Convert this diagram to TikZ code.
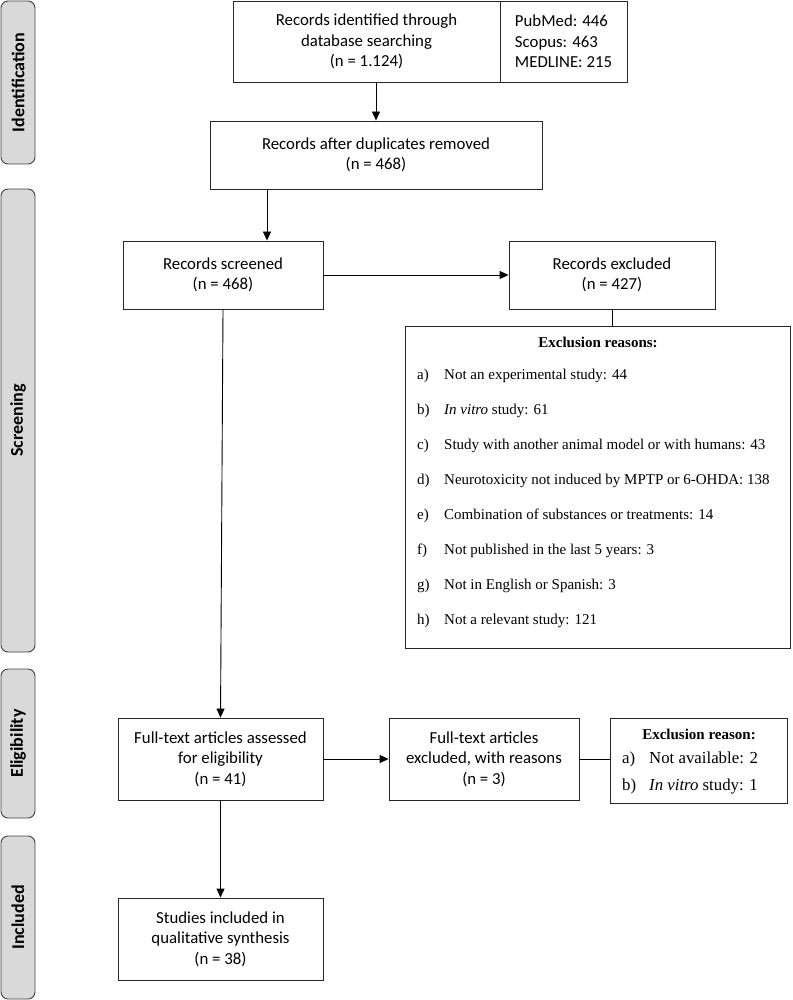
\documentclass[tikz,border=0pt]{standalone}
\usepackage{fontspec}
\setmainfont{Carlito}
\newfontfamily\tnr{Liberation Serif}
\usetikzlibrary{arrows.meta,calc}
\definecolor{sidegray}{HTML}{D9D9D9}
\begin{document}
\begin{tikzpicture}[x=1pt,y=-1pt,
  box/.style={draw=black!85,line width=0.9pt,inner sep=0pt,align=center,font=\fontsize{16.8}{20.5}\selectfont},
  side/.style={draw=black!75,fill=sidegray,rounded corners=7pt,line width=0.9pt,inner sep=0pt,rotate=90,font=\fontsize{18}{20}\selectfont\bfseries},
  arr/.style={-{Triangle[length=9pt,width=8pt]},line width=0.9pt},
  ln/.style={line width=0.9pt},
  ser/.style={font=\tnr\fontsize{15}{17}\selectfont,inner sep=0pt},
  sert/.style={font=\tnr\fontsize{15}{17}\selectfont\bfseries,inner sep=0pt},
  serb/.style={font=\tnr\fontsize{16.8}{18}\selectfont,inner sep=0pt}]
\useasboundingbox (0,0) rectangle (792,1000);
% side labels
\node[side,minimum width=163pt,minimum height=34pt] (sid) at (18,82.5) {Identification};
\node[side,minimum width=463pt,minimum height=34pt] (sscr) at (18,420.5) {Screening};
\node[side,minimum width=149pt,minimum height=34pt] (selig) at (18,743.5) {Eligibility};
\node[side,minimum width=163pt,minimum height=34pt] (sinc) at (18,917.5) {Included};
% boxes
\node[box,minimum width=267pt,minimum height=81pt] (b1) at (366.5,41.5) {Records identified through\\database searching\\(n = 1.124)};
\node[box,align=left,minimum width=127pt,minimum height=81pt] (b1b) at (563.5,41.5) {PubMed: 446\\Scopus: 463\\MEDLINE: 215};
\node[box,minimum width=332pt,minimum height=68pt] (b2) at (376,155) {Records after duplicates removed\\(n = 468)};
\node[box,minimum width=200pt,minimum height=68pt] (b3) at (223,275) {Records screened\\(n = 468)};
\node[box,minimum width=206pt,minimum height=68pt] (b4) at (612,275) {Records excluded\\(n = 427)};
\node[box,minimum width=385pt,minimum height=322pt] (ex) at (597.5,487) {};
\node[box,minimum width=205pt,minimum height=82pt] (b5) at (220.5,759) {Full-text articles assessed\\for eligibility\\(n = 41)};
\node[box,minimum width=190pt,minimum height=82pt] (b6) at (484,759) {Full-text articles\\excluded, with reasons\\(n = 3)};
\node[box,minimum width=177pt,minimum height=85pt] (b7) at (698.5,760.5) {};
\node[box,minimum width=205pt,minimum height=82pt] (b8) at (220.5,939) {Studies included in\\qualitative synthesis\\(n = 38)};
% exclusion reasons list
\node[sert] (ext) at (598,342) {Exclusion reasons:};
\foreach \l/\t [count=\i from 0] in {a)/Not an experimental study: 44,
  b)/\textit{In vitro} study: 61,
  c)/Study with another animal model or with humans: 43,
  d)/Neurotoxicity not induced by MPTP or 6-OHDA: 138,
  e)/Combination of substances or treatments: 14,
  f)/Not published in the last 5 years: 3,
  g)/Not in English or Spanish: 3,
  h)/Not a relevant study: 121}{
  \node[ser,anchor=mid west] (el\i) at (417,{377+35*\i}) {\l};
  \node[ser,anchor=mid west] (et\i) at (444,{377+35*\i}) {\t};
}
% second exclusion list
\node[sert] (e7t) at (699,734) {Exclusion reason:};
\node[serb,anchor=mid west] (e7a) at (622,761) {a)};
\node[serb,anchor=mid west] (e7at) at (649,761) {Not available: 2};
\node[serb,anchor=mid west] (e7b) at (622,788) {b)};
\node[serb,anchor=mid west] (e7bt) at (649,788) {\textit{In vitro} study: 1};
% connectors
\coordinate (c23) at (267,0);
\draw[arr] (b1.south -| b2.north) -- (b2.north);
\draw[arr] (b2.south -| c23) -- (b3.north -| c23);
\draw[arr] (b3.east) -- (b4.west);
\draw[ln] (b4.south) -- (b4.south |- ex.north);
\draw[arr] (b3.south) -- (b5.north);
\draw[arr] (b5.east) -- (b6.west);
\draw[ln] (b6.east) -- (b7.west |- b6.east);
\draw[arr] (b5.south) -- (b8.north);
\end{tikzpicture}
\end{document}
